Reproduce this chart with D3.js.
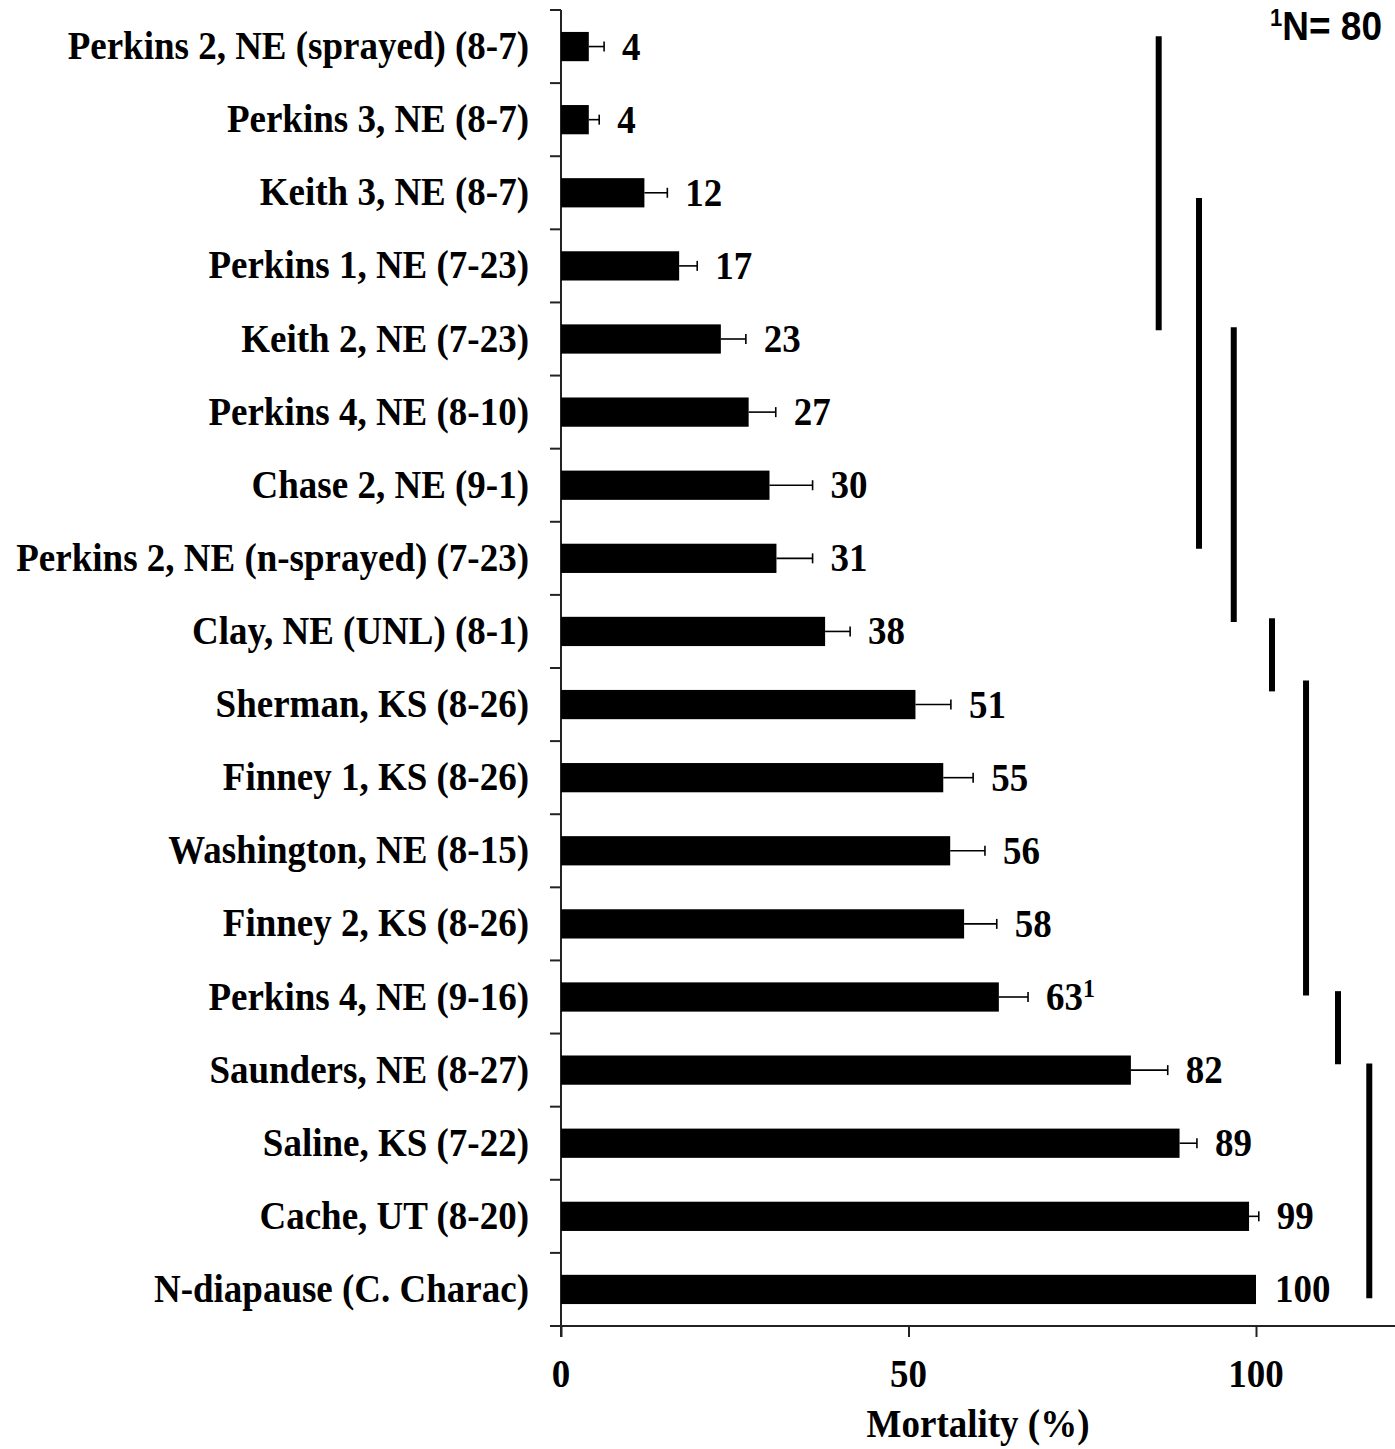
<!DOCTYPE html>
<html>
<head>
<meta charset="utf-8">
<script src="https://cdn.jsdelivr.net/npm/d3@7"></script>
<style>
  html, body { margin: 0; padding: 0; background: #fff; }
  svg { display: block; }
</style>
</head>
<body>
<div id="chart"></div>
<script>
// ---- data ----
const categories = [
  "Perkins 2, NE (sprayed) (8-7)",
  "Perkins 3, NE (8-7)",
  "Keith 3, NE (8-7)",
  "Perkins 1, NE (7-23)",
  "Keith 2, NE (7-23)",
  "Perkins 4, NE (8-10)",
  "Chase 2, NE (9-1)",
  "Perkins 2, NE (n-sprayed) (7-23)",
  "Clay, NE (UNL) (8-1)",
  "Sherman, KS (8-26)",
  "Finney 1, KS (8-26)",
  "Washington, NE (8-15)",
  "Finney 2, KS (8-26)",
  "Perkins 4, NE (9-16)",
  "Saunders, NE (8-27)",
  "Saline, KS (7-22)",
  "Cache, UT (8-20)",
  "N-diapause (C. Charac)"
];
const mortality = [4, 4, 12, 17, 23, 27, 30, 31, 38, 51, 55, 56, 58, 63, 82, 89, 99, 100];
const stdErr    = [2.2, 1.5, 3.3, 2.6, 3.6, 3.9, 6.2, 5.2, 3.6, 5.1, 4.3, 5.0, 4.7, 4.2, 5.3, 2.5, 1.4, 0];
const valueLabels = ["4", "4", "12", "17", "23", "27", "30", "31", "38", "51", "55", "56", "58", "63", "82", "89", "99", "100"];
const valueSuper  = ["", "", "", "", "", "", "", "", "", "", "", "", "", "1", "", "", "", ""];
// significance groups: span in (fractional) category index, and x on the mortality scale
const groupFrom = [-0.14, 2.07, 3.84, 7.82, 8.67, 12.92, 13.91];
const groupTo   = [3.88, 6.87, 7.87, 8.82, 12.98, 13.92, 17.12];
const groupX    = [86.0, 91.8, 96.8, 102.3, 107.2, 111.8, 116.3];
const xTicks = [0, 50, 100];
const xDomain = [0, 120];
const axisTitle = "Mortality (%)";
const noteSup = "1";
const noteText = "N= 80";

// ---- layout ----
const W = 1395, H = 1449;
const mLeft = 561, mRight = 1395, mTop = 10, mBottom = 1326;
const serif = "'Liberation Serif', 'Times New Roman', Times, serif";
const sans = "'Liberation Sans', Arial, Helvetica, sans-serif";
const STRETCH = 1.08;

const svg = d3.select("#chart").append("svg")
  .attr("width", W).attr("height", H)
  .attr("viewBox", `0 0 ${W} ${H}`);

const x = d3.scaleLinear().domain(xDomain).range([mLeft, mRight]);
const y = d3.scaleBand().domain(categories).range([mTop, mBottom]).paddingInner(0).paddingOuter(0);
const barH = y.bandwidth() * 0.4;
const yc = d => y(d) + y.bandwidth() / 2;
// continuous index -> pixel (centre of band i)
const yIdx = d3.scaleLinear().domain([0, categories.length - 1])
  .range([yc(categories[0]), yc(categories[categories.length - 1])]);

function stretchedText(g, tx, ty, str, opts) {
  const t = g.append("text")
    .attr("transform", `translate(${tx},${ty}) scale(1,${STRETCH})`)
    .attr("font-family", opts.family || serif)
    .attr("font-weight", "bold")
    .attr("font-size", opts.size || 37)
    .attr("text-anchor", opts.anchor || "start")
    .attr("fill", "#000")
    .text(str);
  return t;
}

// y axis line & boundary ticks
svg.append("line").attr("x1", mLeft).attr("x2", mLeft).attr("y1", mTop).attr("y2", mBottom + 11)
  .attr("stroke", "#222").attr("stroke-width", 2);
const boundaries = categories.map(c => y(c));
svg.append("g").selectAll("line").data(boundaries).join("line")
  .attr("x1", mLeft - 11).attr("x2", mLeft).attr("y1", d => d).attr("y2", d => d)
  .attr("stroke", "#222").attr("stroke-width", 2);

const xAxis = d3.axisBottom(x).tickValues(xTicks).tickSize(11).tickFormat("");
const xAxisG = svg.append("g").attr("transform", `translate(0,${mBottom})`).call(xAxis);
xAxisG.select(".domain").remove();
xAxisG.selectAll(".tick line").attr("stroke", "#222").attr("stroke-width", 2);
svg.append("line").attr("x1", mLeft - 11).attr("x2", mRight).attr("y1", mBottom).attr("y2", mBottom)
  .attr("stroke", "#222").attr("stroke-width", 2);

const tickLabels = svg.append("g");
xTicks.forEach(v => stretchedText(tickLabels, x(v), 1387, String(v), { anchor: "middle" }));
stretchedText(svg.append("g"), (mLeft + mRight) / 2, 1437, axisTitle, { anchor: "middle" });

// category labels
const catG = svg.append("g");
categories.forEach(c => stretchedText(catG, 529, yc(c) + 12.5, c, { anchor: "end" }));

// bars
const data = categories.map((c, i) => ({ c, v: mortality[i], e: stdErr[i], lab: valueLabels[i], sup: valueSuper[i] }));
svg.append("g").selectAll("rect").data(data).join("rect")
  .attr("x", x(0))
  .attr("y", d => yc(d.c) - barH / 2)
  .attr("width", d => x(d.v) - x(0))
  .attr("height", barH)
  .attr("fill", "#000");

// error bars
const eb = svg.append("g").attr("stroke", "#000").attr("stroke-width", 1.6);
data.filter(d => d.e > 0).forEach(d => {
  eb.append("line").attr("x1", x(d.v)).attr("x2", x(d.v + d.e)).attr("y1", yc(d.c)).attr("y2", yc(d.c));
  eb.append("line").attr("x1", x(d.v + d.e)).attr("x2", x(d.v + d.e)).attr("y1", yc(d.c) - 5).attr("y2", yc(d.c) + 5);
});

// value labels
const vl = svg.append("g");
data.forEach(d => {
  const lx = d.e > 0 ? x(d.v + d.e) + 18 : x(d.v) + 19;
  const t = stretchedText(vl, lx, yc(d.c) + 13, d.lab, {});
  if (d.sup) {
    t.append("tspan").attr("font-size", 24).attr("dy", -12).text(d.sup);
  }
});

// significance lines
const sg = svg.append("g").attr("stroke", "#000").attr("stroke-width", 6);
groupX.forEach((xv, i) => {
  sg.append("line")
    .attr("x1", x(xv)).attr("x2", x(xv))
    .attr("y1", yIdx(groupFrom[i]))
    .attr("y2", yIdx(groupTo[i]));
});

// note top-right
const note = svg.append("g").attr("transform", `translate(1382,40) scale(1,${STRETCH})`);
const nt = note.append("text")
  .attr("font-family", sans).attr("font-weight", "bold").attr("font-size", 37)
  .attr("text-anchor", "end").attr("fill", "#000");
nt.append("tspan").attr("font-size", 22).attr("dy", -13).text(noteSup);
nt.append("tspan").attr("dy", 13).text(noteText);
</script>
</body>
</html>
